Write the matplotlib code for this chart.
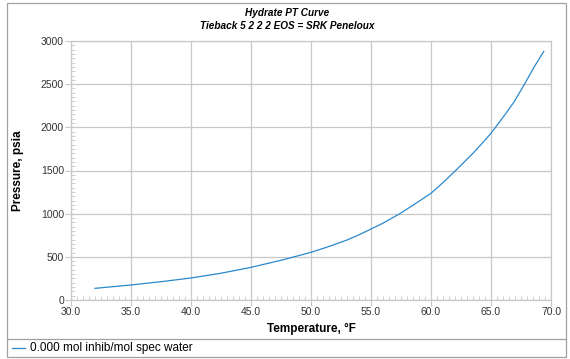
import matplotlib
matplotlib.use("Agg")
import matplotlib.pyplot as plt
import matplotlib.ticker as mtick
from matplotlib.patches import Rectangle
from matplotlib.lines import Line2D

# curva de hidrato
temperatura = [32.0, 35.0, 37.5, 40.0, 42.5, 45.0, 47.5, 50.0, 51.5, 53.0,
               54.0, 55.0, 56.0, 57.4, 58.8, 60.0, 61.0, 62.1, 63.5, 64.2,
               65.0, 65.7, 66.3, 66.9, 67.8, 68.6, 69.4]
pressao = [135, 174, 212, 255, 310, 378, 460, 552, 620, 695,
           755, 822, 890, 1000, 1125, 1236, 1360, 1506, 1700, 1805,
           1931, 2060, 2173, 2290, 2502, 2700, 2880]
serie_nome = "0.000 mol inhib/mol spec water"

plt.rcParams["font.family"] = ["Arial", "Liberation Sans", "DejaVu Sans"]

fig = plt.figure(figsize=(5.70, 3.59), dpi=100)
W, H = 570, 359

# moldura externa + caixa da legenda
borda = "#a0a0a0"
fig.add_artist(Rectangle((7 / W, 1 - 357 / H), (566 - 7) / W, (357 - 3) / H,
                         transform=fig.transFigure, fill=False, edgecolor=borda, lw=0.9))
fig.add_artist(Line2D([7 / W, 566 / W], [1 - 339 / H, 1 - 339 / H],
                      transform=fig.transFigure, color=borda, lw=0.9))

ax = fig.add_axes([71 / W, 1 - 300 / H, (551 - 71) / W, (300 - 41) / H])
ax.plot(temperatura, pressao, color="#2a88cc", lw=0.9)

ax.set_xlim(30, 70)
ax.set_ylim(0, 3000)
ax.xaxis.set_major_locator(mtick.MultipleLocator(5))
ax.xaxis.set_minor_locator(mtick.MultipleLocator(0.5))
ax.yaxis.set_major_locator(mtick.MultipleLocator(500))
ax.yaxis.set_minor_locator(mtick.MultipleLocator(50))
ax.xaxis.set_major_formatter(mtick.FormatStrFormatter("%.1f"))

cinza = "#c8c8c8"
ax.grid(True, which="major", color=cinza, lw=0.9)
for s in ax.spines.values():
    s.set_color(cinza)
    s.set_linewidth(0.9)
ax.tick_params(which="major", direction="out", length=4, color=cinza,
               labelsize=7.5, labelcolor="#333333", pad=1)
ax.tick_params(which="minor", direction="in", length=3, color=cinza)

ax.set_xlabel("Temperature, °F", fontsize=8.5, fontweight="bold", labelpad=4)
ax.set_ylabel("Pressure, psia", fontsize=8.5, fontweight="bold", labelpad=12)

fig.text(287 / W, 1 - 13 / H, "Hydrate PT Curve", ha="center", va="center",
         fontsize=7.2, fontweight="bold", fontstyle="italic")
fig.text(287 / W, 1 - 26 / H, "Tieback 5 2 2 2 EOS = SRK Peneloux", ha="center",
         va="center", fontsize=7.2, fontweight="bold", fontstyle="italic")

# legenda na faixa inferior
fig.add_artist(Line2D([12 / W, 25 / W], [1 - 348 / H, 1 - 348 / H],
                      transform=fig.transFigure, color="#2a88cc", lw=0.9))
fig.text(30 / W, 1 - 348 / H, serie_nome, ha="left", va="center", fontsize=8.5)

fig.savefig("out.png", dpi=100)
